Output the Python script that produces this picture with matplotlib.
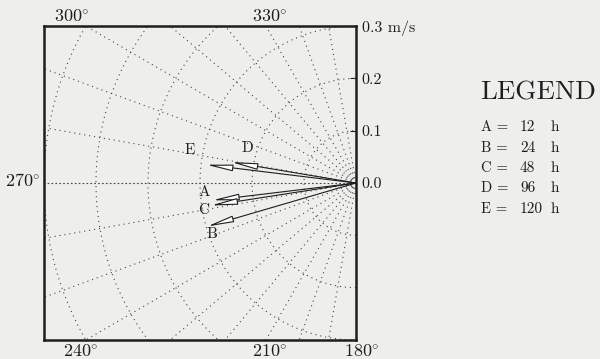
import numpy as np
import matplotlib.pyplot as plt

# current vectors (east / north components, m/s)
labels = ['A', 'B', 'C', 'D', 'E']
hours = [12, 24, 48, 96, 120]
u = [-0.276, -0.286, -0.279, -0.240, -0.288]
v = [-0.033, -0.083, -0.043, 0.040, 0.035]

rings = [0.1, 0.2, 0.3, 0.4, 0.5, 0.6]
spokes = np.arange(180, 361, 10)
speed_ticks = [0.0, 0.1, 0.2, 0.3]
speed_ticklabels = ['0.0', '0.1', '0.2', '0.3 m/s']
angle_labels = [300, 330, 270, 240, 210, 180]

bg = '#eeeeec'
ink = '#1e1e1e'
plt.rcParams['mathtext.fontset'] = 'cm'
plt.rcParams['font.family'] = ['cmr10', 'DejaVu Serif']
plt.rcParams['axes.unicode_minus'] = False

fig = plt.figure(figsize=(6.0, 3.59), dpi=100, facecolor=bg)
ax = fig.add_axes([0.0733, 0.0529, 0.52, 0.8747], facecolor=bg)

# polar grid, compass convention (0 = north, clockwise)
th = np.radians(np.linspace(180, 360, 400))
for r in rings:
    ax.plot(r * np.sin(th), r * np.cos(th), color='#444444',
            lw=0.8, ls=(0, (1, 3.5)))
for a in spokes:
    t = np.radians(a)
    ls = (0, (1.5, 2)) if a == 270 else (0, (1, 3.5))
    ax.plot([0, 0.9 * np.sin(t)], [0, 0.9 * np.cos(t)], color='#444444',
            lw=0.8, ls=ls)

# vectors
offsets = [(-8, 8), (5, -8), (-7, -5), (16, 14), (-16, 15)]
for lab, x, y, off in zip(labels, u, v, offsets):
    ax.annotate('', xy=(x, y), xytext=(0, 0),
                arrowprops=dict(arrowstyle='-|>,head_length=1.6,head_width=0.2',
                                fc='white', ec=ink, lw=0.8,
                                shrinkA=0, shrinkB=0))
    ax.annotate(lab, xy=(x, y), xytext=off, textcoords='offset pixels',
                ha='center', va='center', fontsize=11, color=ink)

ax.set_xlim(-0.6, 0.0)
ax.set_ylim(-0.3, 0.3)
ax.set_xticks([])
ax.yaxis.tick_right()
ax.set_yticks(speed_ticks)
ax.set_yticklabels(speed_ticklabels)
ax.tick_params(axis='y', direction='in', length=4, pad=4,
               labelsize=11.5, colors=ink)
for s in ax.spines.values():
    s.set_linewidth(1.8)
    s.set_color(ink)

# compass angle labels around the frame
angle_pos = [(-0.546, 0.318), (-0.166, 0.318), (-0.64, 0.004),
             (-0.529, -0.322), (-0.166, -0.322), (0.012, -0.322)]
for a, (x, y) in zip(angle_labels, angle_pos):
    ax.text(x, y, r'$%d^{\circ}$' % a, ha='center', va='center',
            fontsize=13, color=ink, clip_on=False)

# legend block
fig.text(0.8, 1 - 100 / 359, 'LEGEND', fontsize=19.5, color=ink, va='baseline')
for i, (lab, h) in enumerate(zip(labels, hours)):
    yy = 1 - (131 + 20.5 * i) / 359
    fig.text(481 / 600, yy, lab + ' =', fontsize=10.5, color=ink, va='baseline')
    fig.text(520 / 600, yy, str(h), fontsize=11, color=ink, va='baseline')
    fig.text(551 / 600, yy, 'h', fontsize=11, color=ink, va='baseline')

fig.savefig('out.png', dpi=100, facecolor=bg)
